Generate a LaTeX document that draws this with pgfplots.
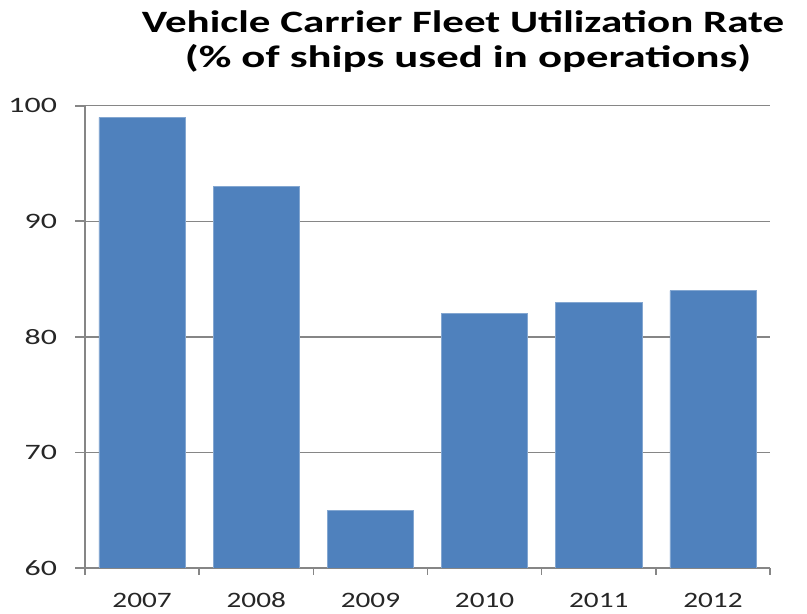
\documentclass[border=0pt]{standalone}
\usepackage{fontspec}
\setmainfont{Carlito}
\usepackage{graphicx}
\usepackage{pgfplots}
\pgfplotsset{compat=1.18}
\definecolor{barblue}{HTML}{4F81BD}
\definecolor{axisgray}{HTML}{868686}
\newcommand{\sx}[1]{\scalebox{1.33}[1]{#1}}
\newcommand{\sy}[1]{\scalebox{1.45}[1]{#1}}
\begin{document}
\begin{tikzpicture}[x=0.75pt,y=0.75pt]
\useasboundingbox (0,0) rectangle (807,614);
\begin{axis}[
  at={(63.75pt,34.5pt)}, anchor=south west,
  scale only axis, width=513.75pt, height=346.7pt,
  ymin=60, ymax=100, ytick={60,70,...,100},
  xmin=-0.5, xmax=5.5,
  xtick={0,...,5},
  xticklabels={\sx{2007},\sx{2008},\sx{2009},\sx{2010},\sx{2011},\sx{2012}},
  minor xtick={-0.5,0.5,...,5.5},
  /pgf/number format/assume math mode=true,
  yticklabel={\sy{\pgfmathprintnumber{\tick}}},
  axis x line*=bottom, axis y line*=left,
  axis line style={axisgray, line width=1.2pt},
  ymajorgrids, grid style={axisgray, line width=1pt},
  tick align=outside, major tick length=7.5pt, minor tick length=5pt,
  tick style={axisgray, line width=1.2pt},
  major x tick style={draw=none},
  tick label style={font=\fontsize{16.5}{18}\selectfont, text=black!85},
  xticklabel style={anchor=base, yshift=-22pt},
  yticklabel style={anchor=east, xshift=-10pt},
]
\addplot[ybar, fill=barblue, draw=barblue!70!white, bar width=0.755, bar shift=0]
  coordinates {(0,99) (1,93) (2,65) (3,82) (4,83) (5,84)};
\end{axis}
\node[anchor=base, font=\bfseries\fontsize{23.3}{26}\selectfont] at (463,581)
  {\scalebox{1.385}[1]{Vehicle Carrier Fleet Utilization Rate}};
\node[anchor=base, font=\bfseries\fontsize{23.3}{26}\selectfont] at (468,546)
  {\scalebox{1.44}[1]{(\% of ships used in operations)}};
\end{tikzpicture}
\end{document}
